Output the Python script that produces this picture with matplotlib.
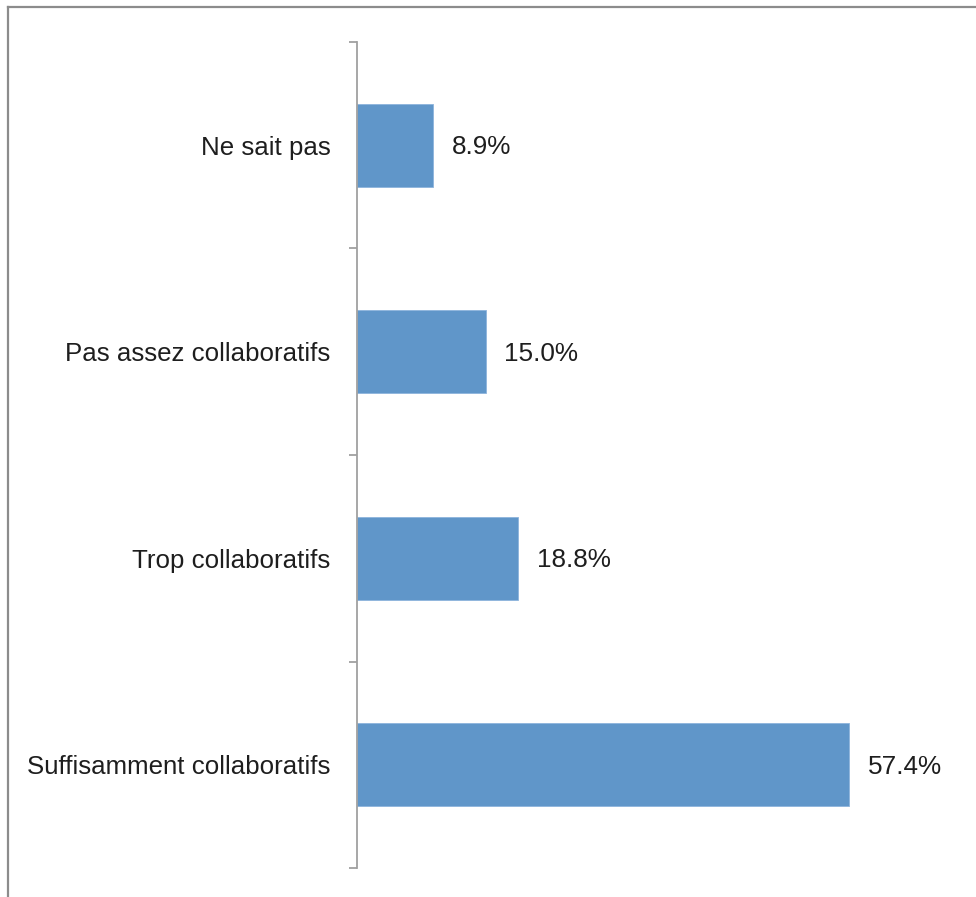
import matplotlib
matplotlib.use("Agg")
import matplotlib.pyplot as plt
from matplotlib.lines import Line2D

categories = ["Ne sait pas", "Pas assez collaboratifs", "Trop collaboratifs", "Suffisamment collaboratifs"]
values = [8.9, 15.0, 18.8, 57.4]
value_labels = ["8.9%", "15.0%", "18.8%", "57.4%"]

plt.rcParams['font.family'] = ['Liberation Sans', 'DejaVu Sans']

W, H = 976, 897
fig = plt.figure(figsize=(W / 100, H / 100), dpi=100)

# plot area placed in pixel terms
ax = fig.add_axes([357 / W, (H - 868) / H, 600 / W, 826 / H])

pos = list(range(len(categories)))
ax.barh(pos, values, height=0.4, color="#6096c9", edgecolor="#8db4dc", linewidth=0.6)

for p, v, lab in zip(pos, values, value_labels):
    ax.annotate(lab, (v, p), xytext=(13.5, -1.5), textcoords="offset points",
                va="center", ha="left", fontsize=18.8, color="#1e1e1e")

ax.set_xlim(0, 70)
ax.set_ylim(len(categories) - 0.5, -0.5)

ax.set_yticks(pos)
ax.set_yticklabels(categories, fontsize=18.6, color="#1e1e1e")
ax.tick_params(axis="y", which="major", length=0, pad=19)
ax.set_yticks([i - 0.5 for i in range(len(categories) + 1)], minor=True)
ax.tick_params(axis="y", which="minor", length=6, width=1.3, color="#a0a0a0", direction="out")

ax.set_xticks([])
for s in ["top", "right", "bottom"]:
    ax.spines[s].set_visible(False)
ax.spines["left"].set_color("#a0a0a0")
ax.spines["left"].set_linewidth(1.3)

# outer chart frame (top and left edges visible)
fig.add_artist(Line2D([8 / W, 8 / W], [0, 1 - 7 / H], transform=fig.transFigure,
                      color="#8c8c8c", linewidth=1.6))
fig.add_artist(Line2D([8 / W, 1], [1 - 7 / H, 1 - 7 / H], transform=fig.transFigure,
                      color="#8c8c8c", linewidth=1.6))

fig.savefig("out.png", dpi=100)
